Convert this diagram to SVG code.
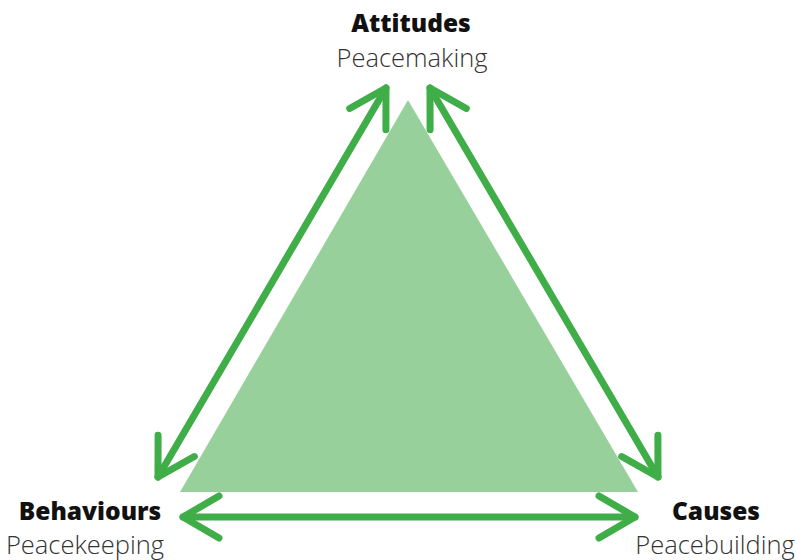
<svg xmlns="http://www.w3.org/2000/svg" width="795" height="560" viewBox="0 0 795 560">
<style>
.t{font-family:"Open Sans","Liberation Sans",sans-serif;text-anchor:middle;fill:#111}
.b{font-weight:800;font-size:24.5px}
.l{font-weight:300;font-size:25.5px;fill:#333}
.c{stroke:#3fae49;stroke-width:7;fill:none;stroke-linecap:round;stroke-linejoin:round}
</style>
<defs>
<marker id="ah" markerUnits="userSpaceOnUse" viewBox="-50 -30 60 60" refX="0" refY="0" markerWidth="60" markerHeight="60" orient="auto-start-reverse" overflow="visible">
<path d="M -36,-21 L 0,0 L -36,21" fill="none" stroke="#3fae49" stroke-width="7" stroke-linecap="round" stroke-linejoin="round"/>
</marker>
</defs>
<g id="triangle"><polygon points="408,100 180,492 638,492" fill="#98d09b"/></g>
<g id="connectors">
<line class="c" x1="386" y1="88" x2="158" y2="477" marker-start="url(#ah)" marker-end="url(#ah)"/>
<line class="c" x1="430" y1="88" x2="658" y2="477" marker-start="url(#ah)" marker-end="url(#ah)"/>
<line class="c" x1="183" y1="517" x2="635" y2="517" marker-start="url(#ah)" marker-end="url(#ah)"/>
</g>
<g id="attitudes"><text class="t b" x="411" y="32">Attitudes</text><text class="t l" x="412" y="67">Peacemaking</text></g>
<g id="behaviours"><text class="t b" x="90" y="520">Behaviours</text><text class="t l" x="85" y="554">Peacekeeping</text></g>
<g id="causes"><text class="t b" x="716" y="520">Causes</text><text class="t l" x="715" y="554">Peacebuilding</text></g>
</svg>
